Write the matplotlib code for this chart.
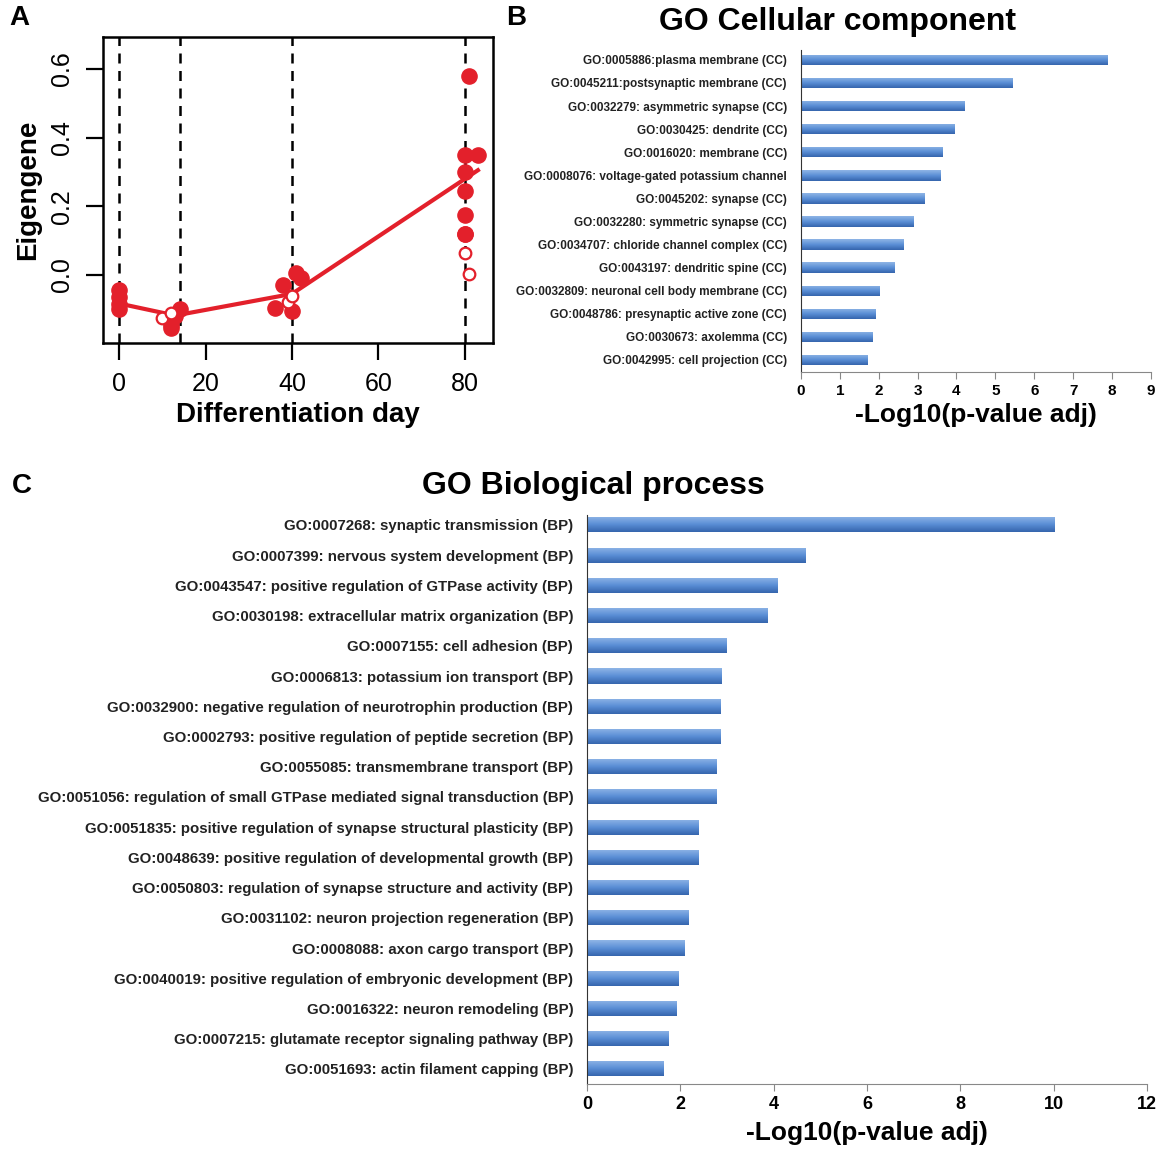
import numpy as np
import matplotlib
matplotlib.use("Agg")
import matplotlib.pyplot as plt
from matplotlib.colors import LinearSegmentedColormap

plt.rcParams["font.family"] = ["Liberation Sans", "DejaVu Sans"]

# Panel A: eigengene over differentiation
filled_day = [0, 0, 0, 0, 12, 12, 14, 13, 36, 38, 40, 41, 42, 80, 80, 83, 80, 80, 80, 80, 81]
filled_val = [-0.045, -0.065, -0.085, -0.10, -0.145, -0.155, -0.10, -0.12,
              -0.097, -0.03, -0.105, 0.005, -0.01,
              0.35, 0.30, 0.35, 0.245, 0.175, 0.12, 0.12, 0.58]
open_day = [10, 12, 39, 40, 80, 81]
open_val = [-0.125, -0.11, -0.08, -0.06, 0.063, 0.003]
trend_day = [0, 13, 40, 83]
trend_val = [-0.083, -0.118, -0.055, 0.305]
stage_days = [0, 14, 40, 80]

# Panel B: GO cellular component
cc_terms = [
    "GO:0005886:plasma membrane (CC)",
    "GO:0045211:postsynaptic membrane (CC)",
    "GO:0032279: asymmetric synapse (CC)",
    "GO:0030425: dendrite (CC)",
    "GO:0016020: membrane (CC)",
    "GO:0008076: voltage-gated potassium channel",
    "GO:0045202: synapse (CC)",
    "GO:0032280: symmetric synapse (CC)",
    "GO:0034707: chloride channel complex (CC)",
    "GO:0043197: dendritic spine (CC)",
    "GO:0032809: neuronal cell body membrane (CC)",
    "GO:0048786: presynaptic active zone (CC)",
    "GO:0030673: axolemma (CC)",
    "GO:0042995: cell projection (CC)",
]
cc_vals = [7.88, 5.44, 4.20, 3.95, 3.65, 3.59, 3.18, 2.88, 2.63, 2.40, 2.03, 1.91, 1.83, 1.71]

# Panel C: GO biological process
bp_terms = [
    "GO:0007268: synaptic transmission (BP)",
    "GO:0007399: nervous system development (BP)",
    "GO:0043547: positive regulation of GTPase activity (BP)",
    "GO:0030198: extracellular matrix organization (BP)",
    "GO:0007155: cell adhesion (BP)",
    "GO:0006813: potassium ion transport (BP)",
    "GO:0032900: negative regulation of neurotrophin production (BP)",
    "GO:0002793: positive regulation of peptide secretion (BP)",
    "GO:0055085: transmembrane transport (BP)",
    "GO:0051056: regulation of small GTPase mediated signal transduction (BP)",
    "GO:0051835: positive regulation of synapse structural plasticity (BP)",
    "GO:0048639: positive regulation of developmental growth (BP)",
    "GO:0050803: regulation of synapse structure and activity (BP)",
    "GO:0031102: neuron projection regeneration (BP)",
    "GO:0008088: axon cargo transport (BP)",
    "GO:0040019: positive regulation of embryonic development (BP)",
    "GO:0016322: neuron remodeling (BP)",
    "GO:0007215: glutamate receptor signaling pathway (BP)",
    "GO:0051693: actin filament capping (BP)",
]
bp_vals = [10.01, 4.69, 4.08, 3.86, 3.00, 2.89, 2.86, 2.86, 2.77, 2.77,
           2.40, 2.40, 2.17, 2.17, 2.08, 1.96, 1.92, 1.75, 1.64]

RED = "#e3202b"
bar_cmap = LinearSegmentedColormap.from_list("barfill", ["#3565ad", "#5b8fd6", "#8fb5e6"])


def gradient_barh(ax, labels, values, height, fontsize, ticksize):
    pos = np.arange(len(values))[::-1]
    bars = ax.barh(pos, values, height=height, color="#5b8fd6", edgecolor="none")
    grad = np.linspace(0, 1, 64).reshape(-1, 1)
    for b in bars:
        x0, y0 = b.get_x(), b.get_y()
        im = ax.imshow(grad, cmap=bar_cmap, aspect="auto", origin="lower",
                       extent=[x0, x0 + b.get_width(), y0, y0 + b.get_height()],
                       interpolation="bilinear", zorder=2)
        im.set_clip_path(b)
    ax.set_yticks(pos)
    ax.set_yticklabels(labels, fontsize=fontsize, fontweight="bold", color="#222222")
    ax.tick_params(axis="y", length=0, pad=10)
    ax.tick_params(axis="x", direction="out", length=5, color="#888888",
                   labelsize=ticksize)
    for lab in ax.get_xticklabels():
        lab.set_fontweight("bold")
    for s in ["top", "right"]:
        ax.spines[s].set_visible(False)
    ax.spines["bottom"].set_color("#888888")
    ax.spines["left"].set_color("#333333")
    return pos


fig = plt.figure(figsize=(11.59, 11.51), dpi=100)

# ---- A ----
axA = fig.add_axes([0.0889, 0.702, 0.3365, 0.2659])
for d in stage_days:
    axA.axvline(d, color="black", linestyle=(0, (4, 3)), linewidth=1.8, zorder=1)
axA.plot(trend_day, trend_val, color=RED, linewidth=3, zorder=3)
axA.scatter(filled_day, filled_val, s=120, color=RED, zorder=4)
axA.scatter(open_day, open_val, s=70, facecolor="white", edgecolor=RED, linewidth=1.6, zorder=4)
axA.set_xlim(-3.7, 86.5)
axA.set_ylim(-0.198, 0.693)
axA.set_xticks([0, 20, 40, 60, 80])
axA.set_yticks([0.0, 0.2, 0.4, 0.6])
axA.set_yticklabels(["0.0", "0.2", "0.4", "0.6"], rotation=90, va="center")
axA.tick_params(labelsize=18, length=12, width=1.6, pad=9)
for s in axA.spines.values():
    s.set_linewidth(1.8)
axA.set_xlabel("Differentiation day", fontsize=20, fontweight="bold", labelpad=4)
axA.set_ylabel("Eigengene", fontsize=20, fontweight="bold", labelpad=6)

# ---- B ----
axB = fig.add_axes([0.691, 0.6768, 0.302, 0.2798])
gradient_barh(axB, cc_terms, cc_vals, 0.45, 8.5, 11)
axB.set_xlim(0, 9)
axB.set_xticks(range(0, 10))
axB.set_ylim(-0.52, 13.43)
axB.set_xlabel("-Log10(p-value adj)", fontsize=19, fontweight="bold", labelpad=4)
fig.text(0.723, 0.981, "GO Cellular component", fontsize=23, fontweight="bold",
         ha="center", va="center")

# ---- C ----
axC = fig.add_axes([0.5065, 0.0582, 0.4831, 0.4944])
gradient_barh(axC, bp_terms, bp_vals, 0.5, 10.8, 13)
axC.set_xlim(0, 12)
axC.set_xticks(range(0, 13, 2))
axC.set_ylim(-0.5, 18.33)
axC.set_xlabel("-Log10(p-value adj)", fontsize=19, fontweight="bold", labelpad=6)
fig.text(0.512, 0.578, "GO Biological process", fontsize=23, fontweight="bold",
         ha="center", va="center")

# panel letters
fig.text(0.008, 0.984, "A", fontsize=20, fontweight="bold", va="center")
fig.text(0.437, 0.984, "B", fontsize=20, fontweight="bold", va="center")
fig.text(0.010, 0.578, "C", fontsize=20, fontweight="bold", va="center")

fig.savefig("out.png", dpi=100)
